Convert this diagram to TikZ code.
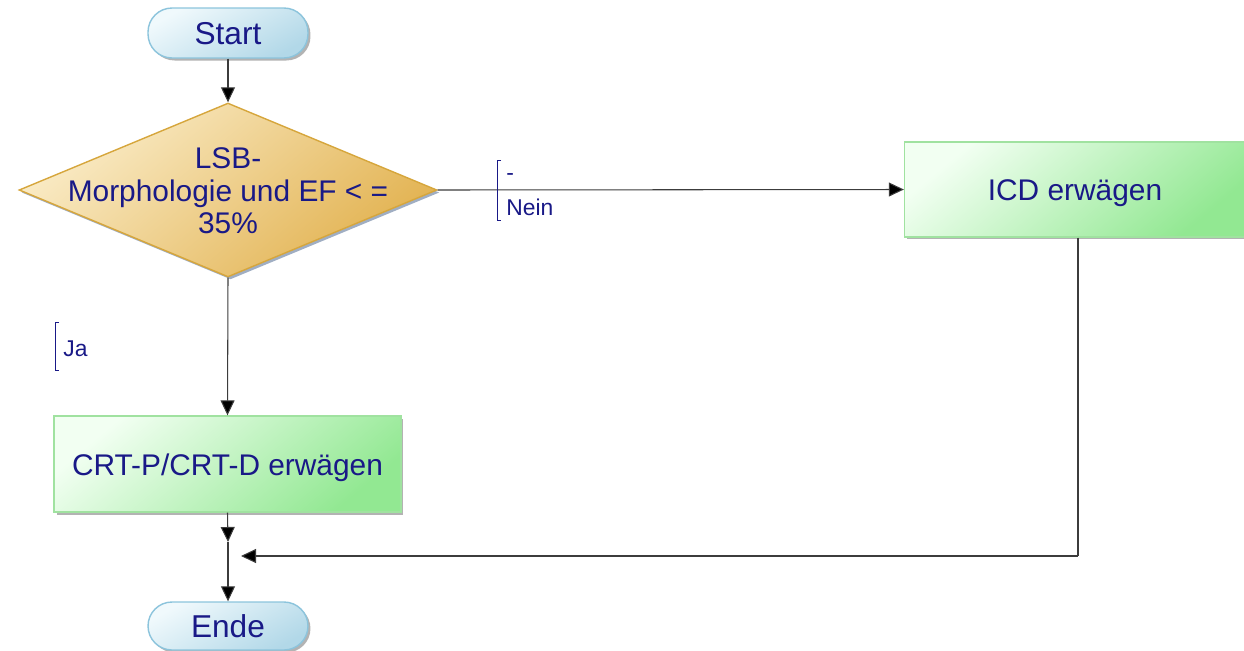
\documentclass[tikz,border=0pt]{standalone}
\usepackage{fontspec}
\setmainfont{Liberation Sans}
\usetikzlibrary{shapes.geometric,arrows.meta,shadows}
\definecolor{navy}{RGB}{25,25,135}
\definecolor{pillborder}{RGB}{140,196,220}
\definecolor{pilllight}{RGB}{240,249,252}
\definecolor{pilldark}{RGB}{178,216,232}
\definecolor{diaborder}{RGB}{214,166,60}
\definecolor{dialight}{RGB}{250,236,200}
\definecolor{diadark}{RGB}{226,178,80}
\definecolor{boxborder}{RGB}{160,226,160}
\definecolor{boxlight}{RGB}{242,255,242}
\definecolor{boxdark}{RGB}{146,232,146}
\definecolor{conn}{RGB}{60,60,60}
\begin{document}
\begin{tikzpicture}[x=0.02cm,y=-0.02cm,
  txt/.style={text=navy, font=\fontsize{17}{19.5}\selectfont},
  lbl/.style={text=navy, font=\fontsize{13}{15}\selectfont, inner sep=0pt},
  shad/.style={drop shadow={shadow xshift=0.05cm, shadow yshift=-0.05cm, fill=black!50, opacity=0.6}},
  pill/.style={draw=pillborder, line width=0.8pt, rounded corners=0.48cm,
    minimum width=3.2cm, minimum height=1cm, inner sep=0pt,
    top color=pilllight, bottom color=pilldark, shading angle=30, shad,
    text=navy, font=\fontsize{18}{20}\selectfont, text height=13.5pt, text depth=0pt},
  dia/.style={diamond, draw=diaborder, line width=0.8pt, inner sep=0pt,
    minimum width=8.36cm, minimum height=3.48cm,
    top color=dialight, bottom color=diadark, shading angle=40,
    drop shadow={shadow xshift=0.05cm, shadow yshift=-0.05cm, fill={rgb,255:red,120;green,140;blue,170}, opacity=0.7}},
  proc/.style={rectangle, draw=boxborder, line width=0.8pt, inner sep=0pt,
    top color=boxlight, bottom color=boxdark, shading angle=40, shad, txt,
    text height=13pt, text depth=0pt},
  arr/.style={draw=conn, line width=0.6pt, -{Triangle[length=0.3cm,width=0.28cm,fill=black]}},
  ln/.style={draw=conn, line width=0.6pt},
  brk/.style={draw=navy, line width=0.5pt}]
\useasboundingbox (0,0) rectangle (1244,650);

% nodes
\node[pill] (start) at (228,33) {Start};
\node[dia] (d) at (228,190) {};
\node[txt, align=center, inner sep=0pt] (dtext) at (228,191) {LSB-\\[-1pt]Morphologie und EF < =\\[-1pt]35\%};
\node[proc, minimum width=6.82cm, minimum height=1.9cm] (icd) at (1075,189.5) {ICD erwägen};
\node[proc, minimum width=6.94cm, minimum height=1.92cm] (crt) at (227.5,464) {CRT-P/CRT-D erwägen};
\node[pill, minimum height=0.96cm] (ende) at (228,626) {Ende};

% coordinates
\coordinate (ja1) at (228,542);
\coordinate (corner) at (1078,556);
\coordinate (join) at (241,556);

% connectors
\draw[arr] (start) -- (d.north);
\draw[arr] (d.east) -- (icd.west);
\draw[arr] (d.south) -- (crt.north);
\draw[ln] (icd.south -| corner) -- (corner);
\draw[arr] (corner) -- (join);
\draw[arr] (crt.south) -- (ja1);
\draw[arr] (ja1) -- (ende.north);

% labels
\draw[brk] (501,160) -- (497,160) -- (497,220) -- (501,220);
\node[lbl, anchor=west] (minus) at (506,177) {-};
\node[lbl, anchor=west] (nein) at (506,207) {Nein};
\draw[brk] (59,322) -- (55,322) -- (55,370) -- (59,370);
\node[lbl, anchor=west] (ja) at (63,349) {Ja};
\end{tikzpicture}
\end{document}
